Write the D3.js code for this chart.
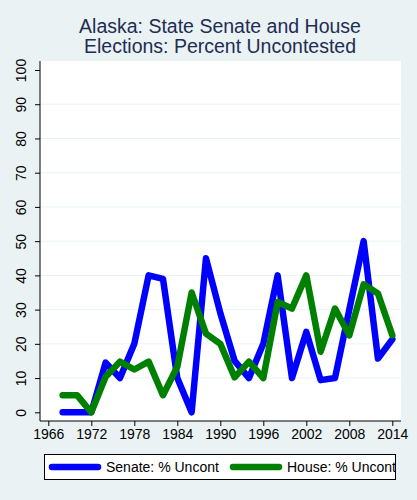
<!DOCTYPE html>
<html>
<head>
<meta charset="utf-8">
<script src="https://cdn.jsdelivr.net/npm/d3@7"></script>
<style>
  body { margin: 0; background: #eaf2f3; }
  svg { display: block; font-family: "Liberation Sans", Arial, sans-serif; }
</style>
</head>
<body>
<script>
//Global variables
    const width = 417;
    const height = 500;
    const plotLeft = 40, plotRight = 401, plotTop = 61, plotBottom = 421;

//Data
    const years = [1968, 1970, 1972, 1974, 1976, 1978, 1980, 1982, 1984, 1986, 1988, 1990,
                   1992, 1994, 1996, 1998, 2000, 2002, 2004, 2006, 2008, 2010, 2012, 2014];
    const senate = [0, 0, 0, 14.5, 10, 20, 40, 39, 10, 0, 45, 29,
                    15, 10, 20, 40, 10, 23.5, 9.4, 10, 30, 50, 15.7, 21.3];
    const house = [5, 5, 0, 10.4, 14.8, 12.5, 14.8, 5, 13.3, 35, 23, 20,
                   10.2, 14.8, 10, 32.2, 30.3, 40, 17.7, 30.3, 22.5, 37.4, 34.7, 22.5];
    const xTicks = [1966, 1972, 1978, 1984, 1990, 1996, 2002, 2008, 2014];
    const yTicks = [0, 10, 20, 30, 40, 50, 60, 70, 80, 90, 100];
    const seriesNames = ["Senate: % Uncont", "House: % Uncont"];
    const seriesColors = ["#0000ff", "#008000"];

//Scales
    const xScale = d3.scaleLinear()
                    .domain([1966, 2014])
                    .range([48.3, 392.3]);

    const yScale = d3.scaleLinear()
                    .domain([0, 100])
                    .range([412.3, 70]);

//SVG element
    const svg = d3.select("body")
                .append("svg")
                .attr("width", width)
                .attr("height", height);

    svg.append("rect")
        .attr("width", width)
        .attr("height", height)
        .attr("fill", "#eaf2f3");

    //Plot region
    svg.append("rect")
        .attr("x", plotLeft)
        .attr("y", plotTop)
        .attr("width", plotRight - plotLeft)
        .attr("height", plotBottom - plotTop)
        .attr("fill", "#ffffff");

    //Gridlines
    svg.selectAll(".grid")
        .data(yTicks.filter(d => d > 0 && d < 100))
        .enter()
        .append("line")
        .attr("x1", plotLeft)
        .attr("x2", plotRight)
        .attr("y1", d => yScale(d))
        .attr("y2", d => yScale(d))
        .attr("stroke", "#eaf2f3")
        .attr("stroke-width", 1);

//Title
    svg.append("text")
        .attr("x", 220)
        .attr("y", 33)
        .attr("text-anchor", "middle")
        .attr("font-size", 19.5)
        .attr("fill", "#1e2d53")
        .text("Alaska: State Senate and House");

    svg.append("text")
        .attr("x", 220)
        .attr("y", 53)
        .attr("text-anchor", "middle")
        .attr("font-size", 19.5)
        .attr("fill", "#1e2d53")
        .text("Elections: Percent Uncontested");

//Lines
    const series = [senate, house];
    const line = d3.line()
                .x((d, i) => xScale(years[i]))
                .y(d => yScale(d));

    series.forEach((s, k) => {
        svg.append("path")
            .datum(s)
            .attr("d", line)
            .attr("fill", "none")
            .attr("stroke", seriesColors[k])
            .attr("stroke-width", 6.5)
            .attr("stroke-linejoin", "round")
            .attr("stroke-linecap", "round");
    });

//Axes
    const bottomAxis = d3.axisBottom(xScale)
                        .tickValues(xTicks)
                        .tickFormat(d3.format("d"))
                        .tickSize(5)
                        .tickSizeOuter(0)
                        .tickPadding(3);

    const leftAxis = d3.axisLeft(yScale)
                        .tickValues(yTicks)
                        .tickSize(5)
                        .tickSizeOuter(0)
                        .tickPadding(3);

    const gx = svg.append("g")
        .attr("transform", "translate(0," + plotBottom + ")")
        .call(bottomAxis);
    gx.select(".domain").attr("d", "M" + plotLeft + ",0H" + plotRight);
    gx.selectAll("text")
        .attr("font-size", 14)
        .attr("font-family", "Liberation Sans, Arial, sans-serif")
        .attr("fill", "#000");

    const gy = svg.append("g")
        .attr("transform", "translate(" + plotLeft + ",0)")
        .call(leftAxis);
    gy.select(".domain").attr("d", "M0," + plotTop + "V" + plotBottom);
    gy.selectAll(".tick text")
        .attr("font-size", 14)
        .attr("font-family", "Liberation Sans, Arial, sans-serif")
        .attr("fill", "#000")
        .attr("text-anchor", "middle")
        .attr("dy", 0)
        .attr("x", 0)
        .attr("transform", "translate(-14,0) rotate(-90)");

//Legend
    svg.append("clipPath")
        .attr("id", "legclip")
        .append("rect")
        .attr("x", 44.5)
        .attr("y", 454.5)
        .attr("width", 351)
        .attr("height", 25);

    const legend = svg.append("g");
    legend.append("rect")
        .attr("x", 44.5)
        .attr("y", 454.5)
        .attr("width", 351)
        .attr("height", 25)
        .attr("fill", "#ffffff")
        .attr("stroke", "#000")
        .attr("stroke-width", 1);

    const legendX = [52, 233];
    seriesNames.forEach((name, k) => {
        legend.append("line")
            .attr("x1", legendX[k])
            .attr("x2", legendX[k] + 46)
            .attr("y1", 467)
            .attr("y2", 467)
            .attr("stroke", seriesColors[k])
            .attr("stroke-width", 6.5)
            .attr("stroke-linecap", "round");
        legend.append("text")
            .attr("x", legendX[k] + 54)
            .attr("y", 472)
            .attr("font-size", 14)
            .attr("fill", "#000")
            .attr("clip-path", "url(#legclip)")
            .text(name);
    });
</script>
</body>
</html>
